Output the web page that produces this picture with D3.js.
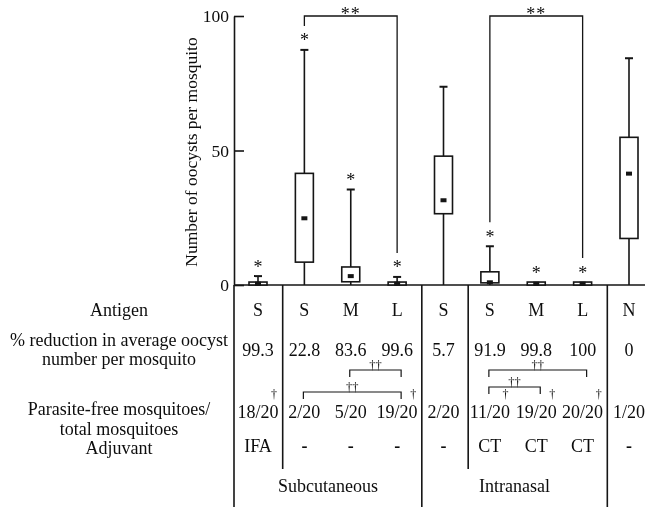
<!DOCTYPE html>
<html><head><meta charset="utf-8">
<script src="https://cdn.jsdelivr.net/npm/d3@7/dist/d3.min.js"></script>
<style>
html,body{margin:0;padding:0;background:#fff;}
svg{will-change:transform;}
svg text{font-family:"Liberation Serif","Times New Roman",Times,"DejaVu Serif",serif;fill:#0d0d0d;}
</style></head><body>
<svg id="chart" width="645" height="507"></svg>
<script>
// ---------- data ----------
const groups = ["SC-S-IFA","SC-S","SC-M","SC-L","IN-S","IN-S-CT","IN-M-CT","IN-L-CT","N"];
const whiskerLow  = [0, 0, 0, 0, 0, 0, 0, 0, 0];
const q1          = [0, 8.5, 1.2, 0, 26.5, 0.8, 0, 0, 17.3];
const q3          = [1.1, 41.5, 6.7, 1.1, 47.9, 4.9, 1.1, 1.1, 54.9];
const whiskerHigh = [3.3, 87.4, 35.5, 3.0, 73.7, 14.4, 1.1, 1.1, 84.3];
const means       = [0.5, 24.8, 3.3, 0.5, 31.5, 1.0, 0.5, 0.5, 41.4];
const starred     = [true, true, true, true, false, true, true, true, false];
const sigPairs    = [[1, 3, "**"], [5, 7, "**"]];
const yTicks      = [0, 50, 100];
const yLabel      = "Number of oocysts per mosquito";

const antigens     = ["S","S","M","L","S","S","M","L","N"];
const reductions   = ["99.3","22.8","83.6","99.6","5.7","91.9","99.8","100","0"];
const parasiteFree = ["18/20","2/20","5/20","19/20","2/20","11/20","19/20","20/20","1/20"];
const daggered     = [true, false, false, true, false, true, true, true, false];
const adjuvants    = ["IFA","-","-","-","-","CT","CT","CT","-"];
const tableBrackets = [[2, 3, "upper"], [1, 3, "lowerSC"], [5, 7, "upper"], [5, 6, "lowerIN"]];
const routes       = [["Subcutaneous", 0, 3], ["Intranasal", 4, 7]];
const rowLabels    = [
  ["Antigen"],
  ["% reduction in average oocyst", "number per mosquito"],
  ["Parasite-free mosquitoes/", "total mosquitoes"],
  ["Adjuvant"]
];

// ---------- layout ----------
const svg = d3.select("#chart");
const ink = "#151515";
const x = d3.scalePoint().domain(groups).range([258, 629]);
const y = d3.scaleLinear().domain([0, 100]).range([285, 16]);
const axisX = 234, bottom = 507, shortEnd = 469;
const FL = 18;
const serif = '"Liberation Serif","Times New Roman",Times,serif';

// y axis
const ax = svg.append("g").attr("transform", `translate(${axisX},0)`)
  .call(d3.axisLeft(y).tickValues(yTicks).tickSizeInner(-10).tickSizeOuter(0).tickPadding(5));
ax.attr("font-family", serif);
ax.select(".domain").attr("stroke", ink).attr("stroke-width", 1.6);
ax.selectAll(".tick line").attr("stroke", ink).attr("stroke-width", 1.6);
ax.selectAll(".tick text").attr("font-size", 17.5).attr("fill", "#0d0d0d");

svg.append("text")
  .attr("transform", `translate(197,152) rotate(-90)`)
  .attr("text-anchor", "middle").attr("font-size", 17.5).text(yLabel);

// x baseline
svg.append("line").attr("x1", axisX).attr("x2", 645).attr("y1", y(0)).attr("y2", y(0))
  .attr("stroke", ink).attr("stroke-width", 1.6);

// table vertical lines
const mid = (a, b) => (x(groups[a]) + x(groups[b])) / 2 + 1.5;
const vlines = [[axisX, bottom], [mid(0,1), shortEnd], [mid(3,4), bottom], [mid(4,5), shortEnd], [mid(7,8), bottom]];
svg.selectAll(".vl").data(vlines).join("line").attr("class","vl")
  .attr("x1", d => d[0]).attr("x2", d => d[0]).attr("y1", y(0)).attr("y2", d => d[1])
  .attr("stroke", ink).attr("stroke-width", 1.6);

// boxes
const bw = 18, cap = 8;
const g = svg.append("g");
groups.forEach((grp, i) => {
  const cx = x(grp);
  g.append("line").attr("x1", cx).attr("x2", cx).attr("y1", y(whiskerLow[i])).attr("y2", y(q1[i]))
    .attr("stroke", ink).attr("stroke-width", 1.6);
  if (whiskerHigh[i] > q3[i]) {
    g.append("line").attr("x1", cx).attr("x2", cx).attr("y1", y(q3[i])).attr("y2", y(whiskerHigh[i]))
      .attr("stroke", ink).attr("stroke-width", 1.6);
    g.append("line").attr("x1", cx - cap/2).attr("x2", cx + cap/2).attr("y1", y(whiskerHigh[i])).attr("y2", y(whiskerHigh[i]))
      .attr("stroke", ink).attr("stroke-width", 2);
  }
  g.append("rect").attr("x", cx - bw/2).attr("y", y(q3[i])).attr("width", bw)
    .attr("height", Math.max(1, y(q1[i]) - y(q3[i])))
    .attr("fill", "#fff").attr("stroke", ink).attr("stroke-width", 1.6);
  g.append("rect").attr("x", cx - 3).attr("y", y(means[i]) - 2).attr("width", 6).attr("height", 4).attr("fill", ink);
  if (starred[i]) {
    g.append("text").attr("x", cx).attr("y", y(whiskerHigh[i]) - 12 + 8.5)
      .attr("text-anchor", "middle").attr("font-size", 18).text("*");
  }
});

// significance brackets (**)
sigPairs.forEach(([a, b, lab]) => {
  const xa = x(groups[a]), xb = x(groups[b]);
  const top = y(100);
  const la = y(whiskerHigh[a]) - 24, lb = y(whiskerHigh[b]) - 24;
  svg.append("path").attr("d", `M${xa},${la}V${top}H${xb}V${lb}`)
    .attr("fill", "none").attr("stroke", ink).attr("stroke-width", 1.3);
  svg.append("text").attr("x", (xa + xb)/2).attr("y", top + 3.5).attr("text-anchor", "middle")
    .attr("font-size", 18).attr("letter-spacing", 1).text(lab);
});

// left row labels
const labelX = 119;
const labelBase = [[316], [346, 365], [415, 435], [454]];
rowLabels.forEach((lines, r) => lines.forEach((t, k) => {
  svg.append("text").attr("x", labelX).attr("y", labelBase[r][k]).attr("text-anchor", "middle")
    .attr("font-size", FL).text(t);
}));

// table values
const rows = [[antigens, 316], [reductions, 355.5], [parasiteFree, 417.5], [adjuvants, 452]];
rows.forEach(([vals, by]) => {
  svg.selectAll(null).data(vals).join("text")
    .attr("x", (d, i) => x(groups[i])).attr("y", by).attr("text-anchor", "middle")
    .attr("font-size", FL).attr("font-weight", d => d === "-" ? "bold" : null).text(d => d);
});

// daggers for parasite-free
parasiteFree.forEach((t, i) => {
  if (!daggered[i]) return;
  const tmp = svg.append("text").attr("font-size", FL).text(t);
  const w = tmp.node().getComputedTextLength(); tmp.remove();
  svg.append("text").attr("x", x(groups[i]) + w/2 - 4.5).attr("y", 398)
    .attr("text-anchor", "middle").attr("font-size", 12).text("\u2020");
});

// table brackets (††)
const bracketY = {upper: 370, lowerSC: 392, lowerIN: 387};
tableBrackets.forEach(([a, b, lvl]) => {
  const xa = x(groups[a]) - 1, xb = x(groups[b]) + 4;
  const by = bracketY[lvl];
  svg.append("path").attr("d", `M${xa},${by + 7}V${by}H${xb}V${by + 7}`)
    .attr("fill", "none").attr("stroke", ink).attr("stroke-width", 1.2);
  svg.append("text").attr("x", (xa + xb)/2).attr("y", by - 1).attr("text-anchor", "middle")
    .attr("font-size", 12.5).text("\u2020\u2020");
});

// route labels
routes.forEach(([name, a, b]) => {
  const left = a === 0 ? axisX : mid(a - 1, a);
  const right = mid(b, b + 1);
  svg.append("text").attr("x", (left + right)/2).attr("y", 492).attr("text-anchor", "middle")
    .attr("font-size", FL).text(name);
});
</script>
</body></html>
